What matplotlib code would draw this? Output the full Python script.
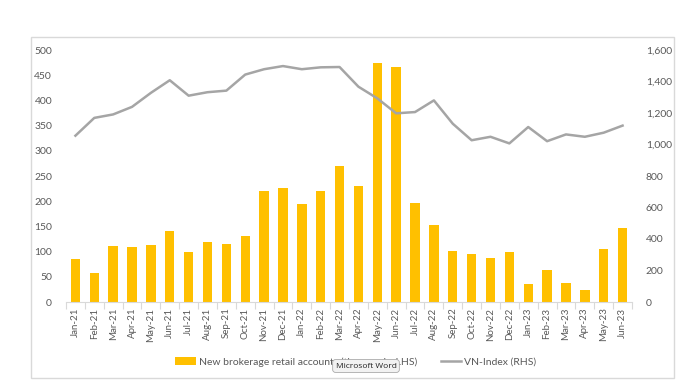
import numpy as np
import matplotlib
matplotlib.use('Agg')
import matplotlib.pyplot as plt
from matplotlib import patches
from matplotlib.ticker import FuncFormatter

# ===============================================================================
months = ['Jan-21', 'Feb-21', 'Mar-21', 'Apr-21', 'May-21', 'Jun-21', 'Jul-21', 'Aug-21',
          'Sep-21', 'Oct-21', 'Nov-21', 'Dec-21', 'Jan-22', 'Feb-22', 'Mar-22', 'Apr-22',
          'May-22', 'Jun-22', 'Jul-22', 'Aug-22', 'Sep-22', 'Oct-22', 'Nov-22', 'Dec-22',
          'Jan-23', 'Feb-23', 'Mar-23', 'Apr-23', 'May-23', 'Jun-23']

new_accounts = [85, 57, 112, 109, 113, 140, 100, 120, 115, 130, 220, 226, 194, 220, 270, 231,
                475, 467, 197, 152, 101, 96, 88, 99, 36, 64, 38, 23, 105, 146]

vn_index = [1056, 1169, 1191, 1239, 1328, 1408, 1310, 1332, 1342, 1444, 1478, 1498, 1478, 1490,
            1492, 1367, 1293, 1198, 1206, 1280, 1132, 1027, 1049, 1007, 1111, 1021, 1064, 1049,
            1075, 1120]

bar_label = 'New brokerage retail accounts (thousands, LHS)'
line_label = 'VN-Index (RHS)'

# ===============================================================================
txt_c = '#595959'
plt.rcParams['font.family'] = ['Lato', 'DejaVu Sans']

fig = plt.figure(figsize=(6.84, 3.80), dpi=100)
fig.patch.set_facecolor('white')

# chart frame
frame = patches.Rectangle((31 / 684, 2 / 380), 643 / 684, 341 / 380, transform=fig.transFigure,
                          fill=False, ec='#d9d9d9', lw=1)
fig.add_artist(frame)

ax = fig.add_axes([66 / 684, 78 / 380, 566 / 684, 252 / 380])
ax2 = ax.twinx()

x = np.arange(len(months))
ax.bar(x, new_accounts, width=0.5, color='#FFC000', zorder=2, label=bar_label)
ax2.plot(x, vn_index, color='#A5A5A5', lw=1.8, zorder=3, label=line_label)

ax.set_xlim(-0.5, len(months) - 0.5)
ax.set_ylim(0, 500)
ax.set_yticks(np.arange(0, 501, 50))
ax2.set_ylim(0, 1600)
ax2.set_yticks(np.arange(0, 1601, 200))
ax2.yaxis.set_major_formatter(FuncFormatter(lambda v, p: f'{int(v):,}'))

ax.set_xticks(x)
ax.set_xticklabels(months, rotation=90, fontsize=7, color=txt_c)
ax.set_xticks(np.arange(-0.5, len(months), 1), minor=True)
ax.tick_params(axis='x', which='major', length=0, pad=4)
ax.tick_params(axis='x', which='minor', length=5, color='#d9d9d9', width=0.8)
ax.tick_params(axis='y', length=0, labelsize=7.5, labelcolor=txt_c, pad=10)
ax2.tick_params(axis='y', length=0, labelsize=7.5, labelcolor=txt_c, pad=10)

for a in (ax, ax2):
    for s in ['top', 'left', 'right', 'bottom']:
        a.spines[s].set_visible(False)
ax.spines['bottom'].set_visible(True)
ax.spines['bottom'].set_color('#d9d9d9')
ax.spines['bottom'].set_linewidth(0.8)

h1, l1 = ax.get_legend_handles_labels()
h2, l2 = ax2.get_legend_handles_labels()
leg = fig.legend(h1 + h2, l1 + l2, loc='center', bbox_to_anchor=(356 / 684, 1 - 362 / 380),
                 ncol=2, frameon=False, fontsize=7.5, handlelength=2.0, columnspacing=2.2,
                 handletextpad=0.3)
for t in leg.get_texts():
    t.set_color(txt_c)

# screenshot tooltip
fig.text(366 / 684, 1 - 366 / 380, 'Microsoft Word', ha='center', va='center', fontsize=6,
         color='#222222', family=['Open Sans', 'DejaVu Sans'],
         bbox=dict(boxstyle='round,pad=0.35', fc='#f2f2f2', ec='#aaaaaa', lw=0.6), zorder=10)

fig.savefig('out.png', dpi=100, facecolor='white')
plt.close()
